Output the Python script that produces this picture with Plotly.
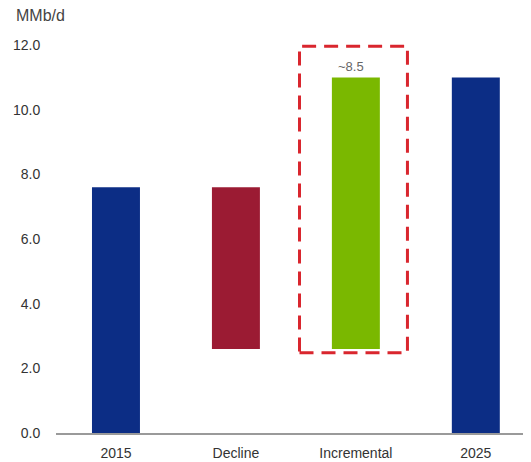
import plotly.graph_objects as go

categories = ["2015", "Decline", "Incremental", "2025"]
measures = ["absolute", "relative", "relative", "total"]
values = [7.6, -5.0, 8.4, 0]
y_ticks = [0, 2, 4, 6, 8, 10, 12]
increment_label = "~8.5"
unit_label = "MMb/d"

FONT = "Liberation Sans, Arial, sans-serif"

fig = go.Figure()
fig.add_trace(go.Waterfall(
    x=categories,
    y=values,
    measure=measures,
    width=0.4,
    totals=dict(marker=dict(color="#0c2d85")),
    decreasing=dict(marker=dict(color="#9b1b33")),
    increasing=dict(marker=dict(color="#7ab800")),
    connector=dict(visible=False),
    hoverinfo="skip",
    showlegend=False,
))

# dashed highlight box around the incremental bar
fig.add_shape(
    type="rect", xref="x", yref="y",
    x0=1.53, x1=2.43, y0=2.48, y1=11.97,
    line=dict(color="#d9262e", width=3, dash="14px,8px"),
    fillcolor="rgba(0,0,0,0)",
)

fig.add_annotation(
    x="Incremental", y=11.35, text=increment_label, showarrow=False,
    xshift=-5, yanchor="middle",
    font=dict(family=FONT, size=13, color="#666666"),
)

fig.add_annotation(
    xref="paper", yref="paper", x=0, y=1,
    xshift=-42, yshift=14,
    text=unit_label, showarrow=False, xanchor="left", yanchor="middle",
    font=dict(family=FONT, size=16, color="#444444"),
)

fig.update_layout(
    width=523, height=454,
    margin=dict(l=48, r=0, t=21, b=29),
    plot_bgcolor="white", paper_bgcolor="white",
    font=dict(family=FONT, size=14, color="#333333"),
    xaxis=dict(
        range=[-0.5, 3.46],
        showline=True, linecolor="#9a9a9a", linewidth=1.5,
        showgrid=False, zeroline=False,
        ticks="outside", ticklen=6, tickcolor="rgba(0,0,0,0)",
        tickfont=dict(family=FONT, size=14, color="#333333"),
        fixedrange=True,
    ),
    yaxis=dict(
        range=[0, 12.5],
        tickvals=y_ticks,
        tickformat=".1f",
        showline=False, showgrid=False, zeroline=False,
        ticks="outside", ticklen=12, tickcolor="rgba(0,0,0,0)",
        tickfont=dict(family=FONT, size=14, color="#333333"),
        fixedrange=True,
    ),
)

fig.write_html("out.html")
